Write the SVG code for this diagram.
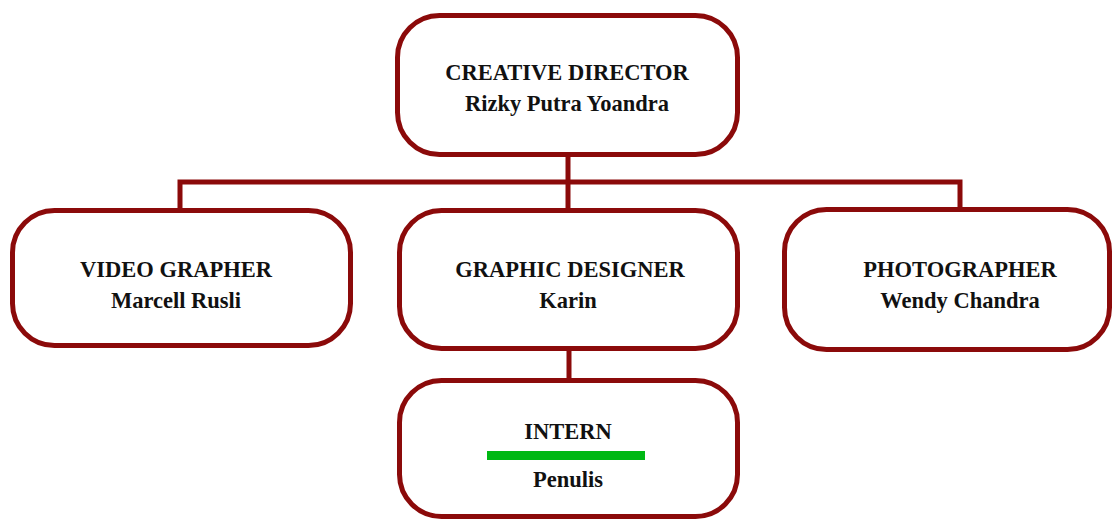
<svg xmlns="http://www.w3.org/2000/svg" width="1112" height="521" viewBox="0 0 1112 521">
<style>
.box{fill:#fff;stroke:#8b0a0a;stroke-width:5}
.con{fill:none;stroke:#8b0a0a;stroke-width:5}
.t{font-family:"Liberation Serif","Times New Roman",serif;font-weight:bold;font-size:22.5px;fill:#111;text-anchor:middle}
</style>
<rect width="1112" height="521" fill="#fff"/>
<g id="connectors">
<line class="con" x1="568" y1="155" x2="568" y2="182"/>
<polyline class="con" points="180,210 180,182 960,182 960,210"/>
<line class="con" x1="568" y1="182" x2="568" y2="210"/>
<line class="con" x1="569" y1="348" x2="569" y2="380"/>
</g>
<g id="creative-director">
<rect class="box" x="397.5" y="15.5" width="340" height="139" rx="42"/>
<text class="t" x="567" y="80">CREATIVE DIRECTOR</text>
<text class="t" x="567" y="111">Rizky Putra Yoandra</text>
</g>
<g id="video-grapher">
<rect class="box" x="12.5" y="210.5" width="338" height="135" rx="42"/>
<text class="t" x="176" y="277">VIDEO GRAPHER</text>
<text class="t" x="176" y="308">Marcell Rusli</text>
</g>
<g id="graphic-designer">
<rect class="box" x="399.5" y="210.5" width="338" height="138" rx="42"/>
<text class="t" x="570" y="277">GRAPHIC DESIGNER</text>
<text class="t" x="568" y="308">Karin</text>
</g>
<g id="photographer">
<rect class="box" x="784.5" y="209.5" width="325" height="140" rx="42"/>
<text class="t" x="960" y="277">PHOTOGRAPHER</text>
<text class="t" x="960" y="308">Wendy Chandra</text>
</g>
<g id="intern">
<rect class="box" x="399.5" y="380.5" width="338" height="136" rx="42"/>
<text class="t" x="568" y="439">INTERN</text>
<rect x="487" y="451" width="158" height="9" fill="#00b814"/>
<text class="t" x="568" y="487">Penulis</text>
</g>
</svg>
